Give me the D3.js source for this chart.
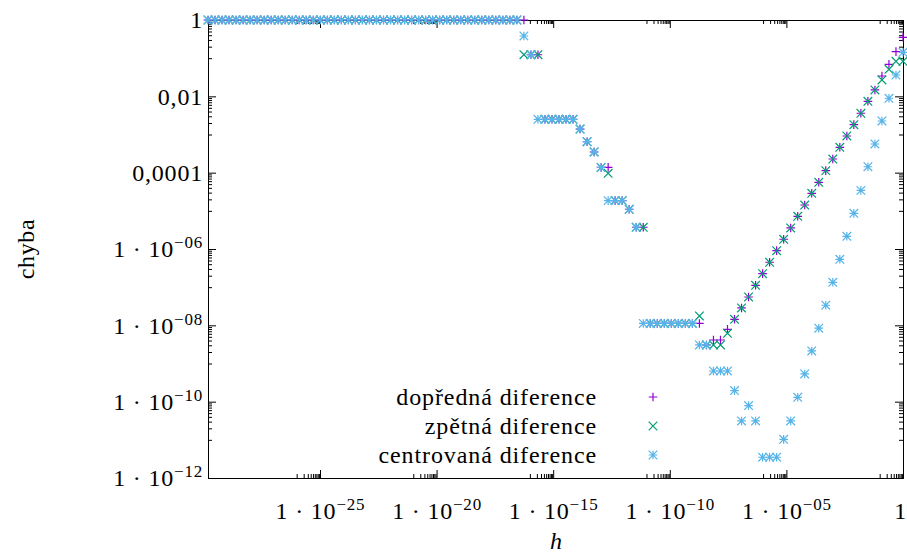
<!DOCTYPE html>
<meta charset="utf-8">
<script src="https://d3js.org/d3.v7.min.js"></script>
<style>
  body { margin: 0; background: #fff; }
  text { font-family: "Liberation Serif", serif; }
</style>
<div id="chart"></div>
<script>
  // step exponents: h = 2^-k
  var exponents = [
    0,1,2,3,4,5,6,7,8,9, 10,11,12,13,14,15,16,17,18,19,
    20,21,22,23,24,25,26,27,28,29, 30,31,32,33,34,35,36,37,38,39,
    40,41,42,43,44,45,46,47,48,49, 50,51,52,53,54,55,56,57,58,59,
    60,61,62,63,64,65,66,67,68,69, 70,71,72,73,74,75,76,77,78,79,
    80,81,82,83,84,85,86,87,88,89, 90,91,92,93,94,95,96,97,98,99
  ];

  // dopředná diference (forward)
  var forward = [
    0.352, 0.148, 0.0690, 0.0341, 1.47e-2, 7.41e-3, 3.60e-3, 1.81e-3, 9.14e-4, 4.62e-4,
    2.28e-4, 1.13e-4, 5.60e-5, 2.88e-5, 1.42e-5, 7.19e-6, 3.56e-6, 1.80e-6, 9.04e-7, 4.49e-7,
    2.26e-7, 1.12e-7, 5.53e-8, 2.85e-8, 1.44e-8, 7.88e-9, 4.13e-9, 4.13e-9, 3.06e-9, 1.12e-8,
    1.12e-8, 1.12e-8, 1.12e-8, 1.12e-8, 1.12e-8, 1.12e-8, 1.12e-8, 3.71e-6, 3.71e-6, 1.10e-5,
    1.85e-5, 1.85e-5, 1.38e-4, 1.37e-4, 3.48e-4, 6.48e-4, 1.39e-3, 2.50e-3, 2.50e-3, 2.50e-3,
    2.50e-3, 2.50e-3, 0.123, 0.123, 1, 1, 1, 1, 1, 1,
    1, 1, 1, 1, 1, 1, 1, 1, 1, 1,  1, 1, 1, 1, 1, 1, 1, 1, 1, 1,
    1, 1, 1, 1, 1, 1, 1, 1, 1, 1,  1, 1, 1, 1, 1, 1, 1, 1, 1, 1
  ];

  // zpětná diference (backward)
  var backward = [
    0.0828, 0.0828, 0.0511, 0.0268, 1.47e-2, 7.41e-3, 3.60e-3, 1.81e-3, 9.14e-4, 4.62e-4,
    2.28e-4, 1.13e-4, 5.60e-5, 2.88e-5, 1.42e-5, 7.19e-6, 3.56e-6, 1.80e-6, 9.04e-7, 4.49e-7,
    2.26e-7, 1.12e-7, 5.53e-8, 2.85e-8, 1.44e-8, 6.19e-9, 3.06e-9, 3.06e-9, 3.06e-9, 1.76e-8,
    1.12e-8, 1.12e-8, 1.12e-8, 1.12e-8, 1.12e-8, 1.12e-8, 1.12e-8, 3.71e-6, 3.71e-6, 1.10e-5,
    1.85e-5, 1.85e-5, 9.6e-5, 1.37e-4, 3.48e-4, 6.48e-4, 1.39e-3, 2.50e-3, 2.50e-3, 2.50e-3,
    2.50e-3, 2.50e-3, 0.123, 0.123, 0.123, 1, 1, 1, 1, 1,
    1, 1, 1, 1, 1, 1, 1, 1, 1, 1,  1, 1, 1, 1, 1, 1, 1, 1, 1, 1,
    1, 1, 1, 1, 1, 1, 1, 1, 1, 1,  1, 1, 1, 1, 1, 1, 1, 1, 1, 1
  ];

  // centrovaná diference (central)
  var central = [
    0.1426, 0.0362, 8.9e-3, 2.26e-3, 5.64e-4, 1.43e-4, 3.44e-5, 8.6e-6, 2.15e-6, 5.37e-7,
    1.34e-7, 3.36e-8, 8.4e-9, 2.13e-9, 5.32e-10, 1.30e-10, 3.12e-11, 1.03e-11, 3.5e-12, 3.5e-12,
    3.5e-12, 3.12e-11, 7.9e-11, 3.12e-11, 1.95e-10, 6.37e-10, 6.37e-10, 6.37e-10, 3.06e-9, 3.06e-9,
    1.12e-8, 1.12e-8, 1.12e-8, 1.12e-8, 1.12e-8, 1.12e-8, 1.12e-8, 1.12e-8, 3.71e-6, 1.10e-5,
    1.85e-5, 1.85e-5, 1.85e-5, 1.37e-4, 3.48e-4, 6.48e-4, 1.39e-3, 2.50e-3, 2.50e-3, 2.50e-3,
    2.50e-3, 2.50e-3, 2.50e-3, 0.123, 0.381, 1, 1, 1, 1, 1,
    1, 1, 1, 1, 1, 1, 1, 1, 1, 1,  1, 1, 1, 1, 1, 1, 1, 1, 1, 1,
    1, 1, 1, 1, 1, 1, 1, 1, 1, 1,  1, 1, 1, 1, 1, 1, 1, 1, 1, 1
  ];

  var seriesNames = ["dopředná diference", "zpětná diference", "centrovaná diference"];
  var seriesColors = ["#9400d3", "#009e73", "#56b4e9"];

  // tick labels
  var xTickValues = [1e-25, 1e-20, 1e-15, 1e-10, 1e-5, 1];
  var xTickBase = ["1 · 10", "1 · 10", "1 · 10", "1 · 10", "1 · 10", "1"];
  var xTickSup = ["−25", "−20", "−15", "−10", "−05", ""];
  var yTickValues = [1, 1e-2, 1e-4, 1e-6, 1e-8, 1e-10, 1e-12];
  var yTickBase = ["1", "0,01", "0,0001", "1 · 10", "1 · 10", "1 · 10", "1 · 10"];
  var yTickSup = ["", "", "", "−06", "−08", "−10", "−12"];

  var W = 907, H = 559;
  var plotLeft = 208, plotRight = 903, plotTop = 20, plotBottom = 478;
  var fontSize = 24;

  var svg = d3.select("#chart").append("svg")
      .attr("width", W).attr("height", H);

  var x = d3.scaleLog().domain([Math.pow(2, -99), 1]).range([plotLeft, plotRight]);
  var y = d3.scaleLog().domain([1e-12, 1]).range([plotBottom, plotTop]);

  // minor ticks: 1..9 times the decade just below each major tick
  function minors(majors, scale) {
    var d = scale.domain(), out = [];
    majors.forEach(function(M) {
      for (var m = 1; m <= 9; m++) {
        var v = m * M / 10;
        if (v >= d[0] && v <= d[1]) out.push(v);
      }
    });
    return out;
  }
  var xMinor = minors(xTickValues, x);
  var yMinor = minors(yTickValues, y);

  function addAxis(axisFn, scale, values, size, transform) {
    var g = svg.append("g")
      .attr("transform", transform)
      .call(axisFn(scale).tickValues(values).tickSize(size).tickSizeOuter(0).tickFormat(""));
    g.selectAll("line, path").attr("stroke", "#000").attr("stroke-width", 1);
    return g;
  }

  // minor ticks on all four sides
  addAxis(d3.axisBottom, x, xMinor, -4, "translate(0," + plotBottom + ")");
  addAxis(d3.axisTop, x, xMinor, -4, "translate(0," + plotTop + ")");
  addAxis(d3.axisLeft, y, yMinor, -4, "translate(" + plotLeft + ",0)");
  addAxis(d3.axisRight, y, yMinor, -4, "translate(" + plotRight + ",0)");
  // major ticks
  var gx = addAxis(d3.axisBottom, x, xTickValues, -8, "translate(0," + plotBottom + ")");
  addAxis(d3.axisTop, x, xTickValues, -8, "translate(0," + plotTop + ")");
  var gy = addAxis(d3.axisLeft, y, yTickValues, -8, "translate(" + plotLeft + ",0)");
  addAxis(d3.axisRight, y, yTickValues, -8, "translate(" + plotRight + ",0)");

  function label(sel, base, sup) {
    sel.text(null);
    sel.append("tspan").text(base);
    if (sup) sel.append("tspan").attr("font-size", 17).attr("dy", -9).text(sup);
  }

  svg.selectAll("g").attr("font-family", null).attr("font-size", null);

  gx.selectAll(".tick text").each(function(d, i) {
    var last = i === xTickValues.length - 1;
    var t = d3.select(this)
      .attr("y", 41).attr("dy", null)
      .attr("x", last ? 3.5 : 0)
      .attr("font-size", fontSize).attr("fill", "#000")
      .attr("letter-spacing", 0.8)
      .attr("text-anchor", last ? "end" : "middle");
    label(t, xTickBase[i], xTickSup[i]);
  });
  gy.selectAll(".tick text").each(function(d, i) {
    var t = d3.select(this)
      .attr("x", -5).attr("dy", "0.32em")
      .attr("font-size", fontSize).attr("fill", "#000")
      .attr("letter-spacing", 0.8)
      .attr("text-anchor", "end");
    label(t, yTickBase[i], yTickSup[i]);
  });

  // axis titles
  svg.append("text")
    .attr("transform", "translate(34," + ((plotTop + plotBottom) / 2) + ") rotate(-90)")
    .attr("text-anchor", "middle")
    .attr("font-size", fontSize)
    .attr("letter-spacing", 0.6)
    .text("chyba");
  svg.append("text")
    .attr("x", 556).attr("y", 549)
    .attr("text-anchor", "middle")
    .attr("font-size", fontSize)
    .attr("font-style", "italic")
    .text("h");

  // point symbols (gnuplot pt 1, 2, 3)
  var r = 4.3;
  var plus = { draw: function(c) { c.moveTo(-r, 0); c.lineTo(r, 0); c.moveTo(0, -r); c.lineTo(0, r); } };
  var cross = { draw: function(c) { c.moveTo(-r, -r); c.lineTo(r, r); c.moveTo(-r, r); c.lineTo(r, -r); } };
  var star = { draw: function(c) { plus.draw(c); cross.draw(c); } };
  var symbols = [plus, cross, star];
  var seriesValues = [forward, backward, central];

  seriesValues.forEach(function(vals, s) {
    var data = exponents.map(function(k, i) { return { h: Math.pow(2, -k), v: vals[i] }; });
    svg.append("g")
      .selectAll("path")
      .data(data)
      .enter()
      .append("path")
        .attr("transform", function(d) { return "translate(" + x(d.h) + "," + y(d.v) + ")"; })
        .attr("d", d3.symbol().type(symbols[s]))
        .attr("fill", "none")
        .attr("stroke", seriesColors[s])
        .attr("stroke-width", 1.2);
  });

  // legend
  var legendY = [397, 426, 455];
  seriesNames.forEach(function(name, s) {
    svg.append("text")
      .attr("x", 597).attr("y", legendY[s])
      .attr("dy", "0.32em")
      .attr("text-anchor", "end")
      .attr("font-size", fontSize)
      .attr("letter-spacing", 0.9)
      .text(name);
    svg.append("path")
      .attr("transform", "translate(653," + legendY[s] + ")")
      .attr("d", d3.symbol().type(symbols[s]))
      .attr("fill", "none")
      .attr("stroke", seriesColors[s])
      .attr("stroke-width", 1.2);
  });
</script>
